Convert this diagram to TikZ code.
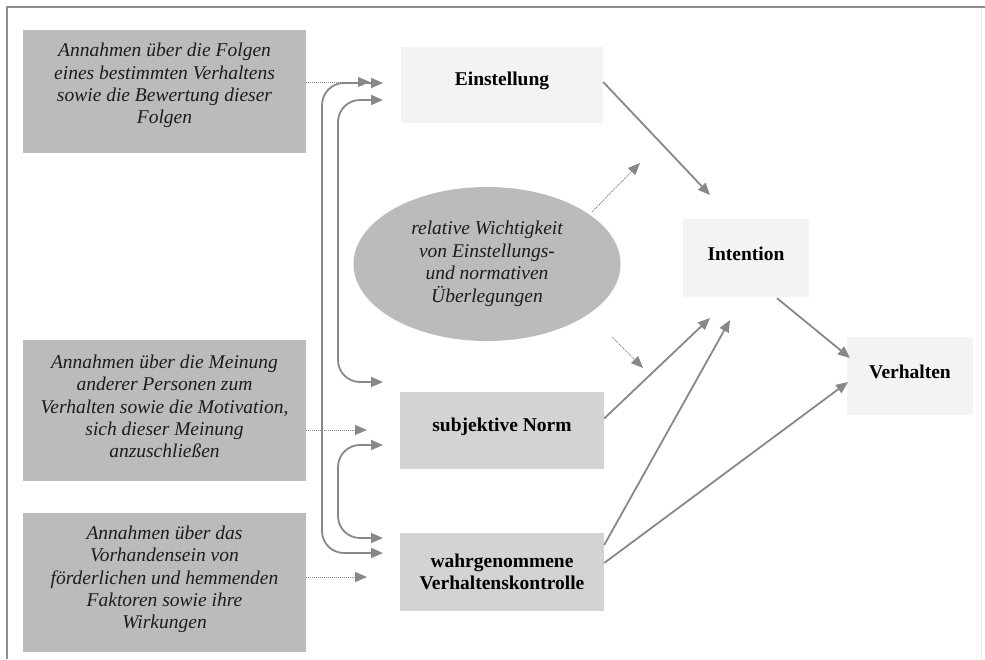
\documentclass[tikz,border=0pt]{standalone}
\usepackage{fontspec}
\setmainfont{Liberation Serif}
\usetikzlibrary{arrows.meta,calc,shapes.geometric}
\definecolor{darkbox}{HTML}{BBBBBB}
\definecolor{midbox}{HTML}{D3D3D3}
\definecolor{lightbox}{HTML}{F3F3F3}
\definecolor{linegray}{HTML}{888888}
\definecolor{framegray}{HTML}{8C8C8C}
\definecolor{txt}{HTML}{1C1C1C}
\begin{document}
\begin{tikzpicture}[x=1pt,y=-1pt,
  abox/.style={fill=darkbox, draw=none, inner sep=0pt, minimum width=283pt},
  atext/.style={inner sep=0pt, align=center, text=txt, font=\fontsize{19.5}{22.3}\selectfont\itshape},
  mbox/.style={fill=midbox, draw=none, inner sep=0pt, minimum width=204pt},
  lbox/.style={fill=lightbox, draw=none, inner sep=0pt},
  btext/.style={inner sep=0pt, align=center, text=black, font=\fontsize{19.5}{22}\selectfont\bfseries},
  solidarrow/.style={draw=linegray, line width=1.8pt, -{Triangle[length=12pt,width=10pt]}},
  dblarrow/.style={draw=linegray, line width=1.8pt, {Triangle[length=12pt,width=10pt]}-{Triangle[length=12pt,width=10pt]}, rounded corners=22pt},
  dotarrow/.style={draw=linegray, line width=1pt, dash pattern=on 1pt off 1pt, -{Triangle[length=12pt,width=10pt]}}
]
\useasboundingbox (0,0) rectangle (985,659);
% frame
\draw[framegray, line width=2pt] (7,659) -- (7,7) -- (985,7);
\draw[black!8, line width=1pt] (981,8) -- (981,659);

% left boxes
\node[abox, minimum height=123pt] (a1) at (164.5,91.5) {};
\node[atext] (a1t) at ($(a1.center)+(0,-6)$) {Annahmen über die Folgen\\eines bestimmten Verhaltens\\sowie die Bewertung dieser\\Folgen};
\node[abox, minimum height=141pt] (a2) at (164.5,410.5) {};
\node[atext] (a2t) at ($(a2.center)+(0,-4)$) {Annahmen über die Meinung\\anderer Personen zum\\Verhalten sowie die Motivation,\\sich dieser Meinung\\anzuschließen};
\node[abox, minimum height=139pt] (a3) at (164.5,582.5) {};
\node[atext] (a3t) at ($(a3.center)+(0,-3)$) {Annahmen über das\\Vorhandensein von\\förderlichen und hemmenden\\Faktoren sowie ihre\\Wirkungen};

% middle boxes
\node[lbox, minimum width=202pt, minimum height=76pt] (einst) at (502,85) {};
\node[btext] (einstt) at ($(einst.center)+(0,-4)$) {Einstellung};
\node[mbox, minimum height=77pt] (norm) at (502,430.5) {};
\node[btext] (normt) at ($(norm.center)+(0,-4)$) {subjektive Norm};
\node[mbox, minimum height=78pt] (wahr) at (502,572) {};
\node[btext] (wahrt) at (wahr.center) {wahrgenommene\\Verhaltenskontrolle};
\node[ellipse, fill=darkbox, draw=none, inner sep=0pt, minimum width=267pt, minimum height=154pt,
  align=center, text=txt, font=\fontsize{19.5}{22.5}\selectfont\itshape] (ell) at (487,264)
  {relative Wichtigkeit\\von Einstellungs-\\und normativen\\Überlegungen};

% right boxes
\node[lbox, minimum width=126pt, minimum height=78pt] (intent) at (746,258) {};
\node[btext] (intentt) at ($(intent.center)+(0,-4)$) {Intention};
\node[lbox, minimum width=126pt, minimum height=78pt] (verh) at (910,376) {};
\node[btext] (verht) at ($(verh.center)+(0,-4)$) {Verhalten};

% arrow tip coordinates
\coordinate (d1) at (370,82);
\coordinate (d2) at (367,430);
\coordinate (d3) at (367,577);
\coordinate (t1) at (383,83);
\coordinate (t2) at (383,100);
\coordinate (t3) at (383,382);
\coordinate (t4) at (383,445);
\coordinate (t5) at (383,538);
\coordinate (t6) at (383,553);
\coordinate (i1) at (710,195);
\coordinate (i2) at (710,318);
\coordinate (i3) at (730,320);
\coordinate (v1) at (850,358);
\coordinate (v2) at (848,382);
\coordinate (e1) at (640,163);
\coordinate (e2) at (643,368);

% dotted arrows from belief boxes
\draw[dotarrow] (a1.east |- d1) -- (d1);
\draw[dotarrow] (a2.east |- d2) -- (d2);
\draw[dotarrow] (a3.east |- d3) -- (d3);

% double-headed correlation arrows
\draw[dblarrow] (t1) -| (322,553) -- (t6);
\draw[dblarrow] (t2) -| (338,382) -- (t3);
\draw[dblarrow] (t4) -| (338,538) -- (t5);

% ellipse dotted arrows
\draw[dotarrow] ($(ell.center)+(105,-52)$) -- (e1);
\draw[dotarrow] ($(ell.center)+(125,73)$) -- (e2);

% solid arrows
\draw[solidarrow] ($(einst.east)+(0,-3)$) -- (i1);
\draw[solidarrow] ($(norm.east)+(0,-12)$) -- (i2);
\draw[solidarrow] ($(wahr.east)+(0,-27)$) -- (i3);
\draw[solidarrow] ($(wahr.east)+(0,-9)$) -- (v2);
\draw[solidarrow] ($(intent.south)+(31,1)$) -- (v1);
\end{tikzpicture}
\end{document}
